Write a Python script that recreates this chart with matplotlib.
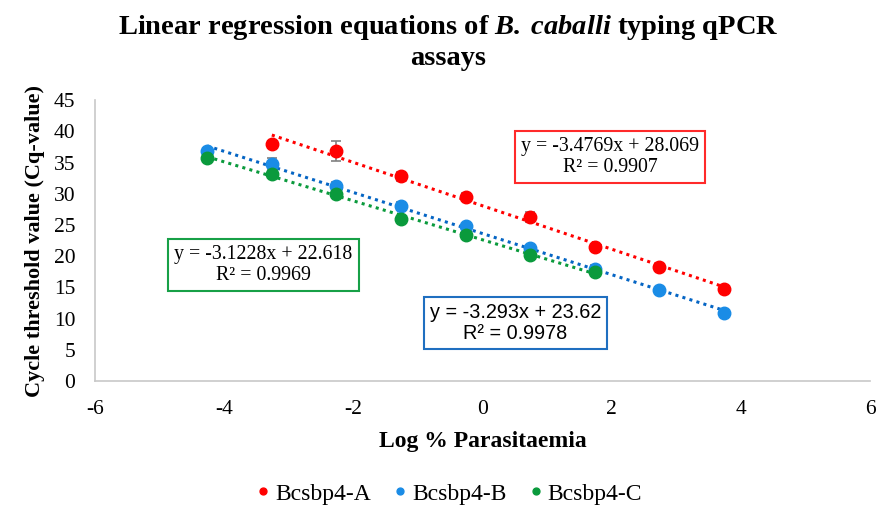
import numpy as np
import matplotlib
matplotlib.use('Agg')
import matplotlib.pyplot as plt

# log % parasitaemia dilution points
x_a = [-3.26, -2.26, -1.26, -0.26, 0.74, 1.74, 2.74, 3.74]
x_b = [-4.26, -3.26, -2.26, -1.26, -0.26, 0.74, 1.74, 2.74, 3.74]
x_c = [-4.26, -3.26, -2.26, -1.26, -0.26, 0.74, 1.74]

# mean Cq values and error bars
y_a = [37.9, 36.9, 32.8, 29.5, 26.2, 21.4, 18.3, 14.8]
e_a = [0.6, 1.6, 0.7, 0.6, 0.8, 0.4, 0.2, 0.3]
y_b = [36.8, 34.8, 31.3, 28.1, 24.8, 21.3, 18.0, 14.5, 10.9]
e_b = [0.5, 1.0, 0.6, 0.5, 0.4, 0.4, 0.6, 0.2, 0.2]
y_c = [35.8, 33.2, 30.0, 26.0, 23.4, 20.2, 17.4]
e_c = [0.5, 0.4, 0.3, 0.3, 0.3, 0.3, 0.3]

# regression equations (slope, intercept, r2)
fit_a = (-3.4769, 28.069, 0.9907)
fit_b = (-3.293, 23.62, 0.9978)
fit_c = (-3.1228, 22.618, 0.9969)

labels = ['Bcsbp4-A', 'Bcsbp4-B', 'Bcsbp4-C']
colors = ['#ff0000', '#1a8ce6', '#0a9a3c']
line_colors = ['#ff0000', '#0565c4', '#0a9a3c']

serif = 'Liberation Serif'
plt.rcParams['axes.unicode_minus'] = False
plt.rcParams['mathtext.fontset'] = 'custom'
plt.rcParams['mathtext.rm'] = 'Liberation Serif'
plt.rcParams['mathtext.bf'] = 'Liberation Serif:bold'
plt.rcParams['mathtext.it'] = 'Liberation Serif:italic'
plt.rcParams['mathtext.bfit'] = 'Liberation Serif:italic:bold'

fig = plt.figure(figsize=(8.78, 5.08), dpi=100)
ax = fig.add_axes([0.108, 0.25, 0.883, 0.553])

series = [(x_a, y_a, e_a, fit_a), (x_b, y_b, e_b, fit_b), (x_c, y_c, e_c, fit_c)]
for i, (xs, ys, es, fit) in enumerate(series):
    ax.errorbar(xs, ys, yerr=es, fmt='none', ecolor='#808080', elinewidth=1.2,
                capsize=3.5, capthick=1.2, zorder=2)
    xx = np.array([xs[0], xs[-1]])
    ax.plot(xx, fit[0] * xx + fit[1], color=line_colors[i], lw=2.2,
            linestyle=(0, (1, 1.4)), zorder=3)
    ax.plot(xs, ys, 'o', color=colors[i], ms=9, zorder=4, label=labels[i])

ax.set_xlim(-6, 6)
ax.set_ylim(0, 45)
ax.set_xticks(range(-6, 7, 2))
ax.set_yticks(range(0, 46, 5))
ax.tick_params(length=0, labelsize=15.5)
ax.tick_params(axis='x', pad=14)
ax.tick_params(axis='y', pad=14)
for t in ax.get_xticklabels() + ax.get_yticklabels():
    t.set_family(serif)
for s in ['top', 'right']:
    ax.spines[s].set_visible(False)
for s in ['left', 'bottom']:
    ax.spines[s].set_color('#c8c8c8')
    ax.spines[s].set_linewidth(1.2)

ax.set_xlabel('Log % Parasitaemia', family=serif, fontsize=17, fontweight='bold', labelpad=8)
ax.set_ylabel('Cycle threshold value (Cq-value)', family=serif, fontsize=16,
              fontweight='bold', labelpad=6)

fig.text(0.51, 0.945, r'Linear regression equations of $\mathbfit{B.\;caballi}$ typing qPCR',
         ha='center', va='center', family=serif, fontsize=20.5, fontweight='bold')
fig.text(0.51, 0.885, 'assays', ha='center', va='center', family=serif,
         fontsize=20.5, fontweight='bold')

def eq_box(x, y, fit, color, family):
    txt = 'y = %gx + %g\nR² = %g' % (fit[0], fit[1], fit[2])
    ax.text(x, y, txt, ha='center', va='center', family=family, fontsize=14.3,
            linespacing=1.1, zorder=5,
            bbox=dict(boxstyle='square,pad=0.3', fc='white', ec=color, lw=1.5))

eq_box(1.98, 35.9, fit_a, '#ff2a2a', serif)
eq_box(0.51, 9.3, fit_b, '#1f6fc0', 'Liberation Sans')
eq_box(-3.39, 18.6, fit_c, '#17a047', serif)

leg = fig.legend(loc='center', bbox_to_anchor=(0.509, 0.028), ncol=3, frameon=False,
                 prop={'family': serif, 'size': 17}, markerscale=0.55,
                 handletextpad=0.0, columnspacing=0.75, handlelength=1.0)

fig.savefig('out.png', dpi=100)
